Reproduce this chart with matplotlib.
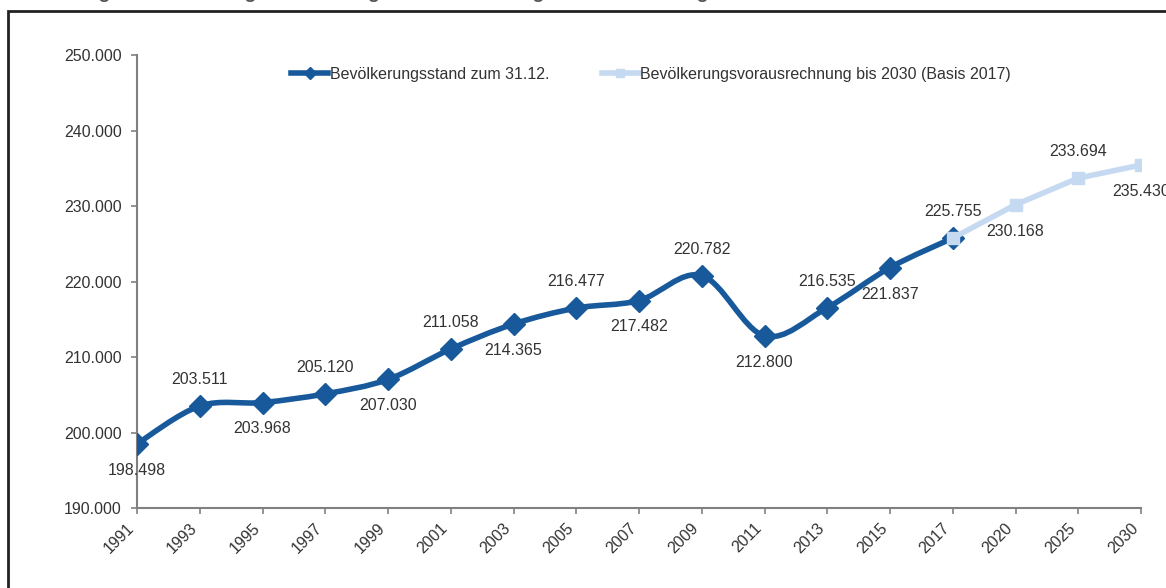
import numpy as np
import matplotlib.pyplot as plt
from matplotlib.path import Path
from matplotlib.patches import PathPatch, Rectangle
from matplotlib.lines import Line2D
from matplotlib.ticker import FuncFormatter

plt.rcParams['font.family'] = ['Liberation Sans', 'DejaVu Sans']

# Daten
jahre = ['1991', '1993', '1995', '1997', '1999', '2001', '2003', '2005', '2007',
         '2009', '2011', '2013', '2015', '2017', '2020', '2025', '2030']
stand = [198498, 203511, 203968, 205120, 207030, 211058, 214365, 216477, 217482,
         220782, 212800, 216535, 221837, 225755]
prognose_jahre = ['2017', '2020', '2025', '2030']
prognose = [225755, 230168, 233694, 235430]
# Beschriftung oberhalb (+1) oder unterhalb (-1)
lage_stand = [-1, 1, -1, 1, -1, 1, -1, 1, -1, 1, -1, 1, -1, 1]
lage_prognose = [0, -1, 1, -1]

blau = '#17599a'
hellblau = '#c5d9f1'
grau = '#333333'

fig = plt.figure(figsize=(11.66, 5.88), dpi=100)
ax = fig.add_axes([137/1166, 1-508/588, (1141-137)/1166, (508-55)/588])

x_stand = np.array([jahre.index(j) for j in jahre[:len(stand)]], dtype=float)
y_stand = np.array(stand, dtype=float)

# geglaettete Linie (wie Excel)
px = np.concatenate([[x_stand[0]], x_stand, [x_stand[-1]]])
py = np.concatenate([[y_stand[0]], y_stand, [y_stand[-1]]])
verts = [(x_stand[0], y_stand[0])]
codes = [Path.MOVETO]
for i in range(1, len(px) - 2):
    c1 = (px[i] + (px[i+1] - px[i-1]) / 6, py[i] + (py[i+1] - py[i-1]) / 6)
    c2 = (px[i+1] - (px[i+2] - px[i]) / 6, py[i+1] - (py[i+2] - py[i]) / 6)
    verts += [c1, c2, (px[i+1], py[i+1])]
    codes += [Path.CURVE4] * 3
ax.add_patch(PathPatch(Path(verts, codes), fill=False, edgecolor=blau,
                       linewidth=4, capstyle='round', joinstyle='round', zorder=3))
ax.plot(x_stand, y_stand, linestyle='none', marker='D', markersize=11,
        color=blau, zorder=4)

x_prog = [jahre.index(j) for j in prognose_jahre]
ax.plot(x_prog, prognose, color=hellblau, linewidth=4, marker='s',
        markersize=8, zorder=5)

# Datenbeschriftungen
for xi, yi, l in zip(x_stand, stand, lage_stand):
    ax.annotate(f'{yi:,}'.replace(',', '.'), (xi, yi), xytext=(0, 19*l),
                textcoords='offset points', ha='center', va='center',
                fontsize=11.5, color=grau, annotation_clip=False, zorder=6)
for xi, yi, l in zip(x_prog, prognose, lage_prognose):
    if l == 0:
        continue
    ax.annotate(f'{yi:,}'.replace(',', '.'), (xi, yi), xytext=(0, 19*l),
                textcoords='offset points', ha='center', va='center',
                fontsize=11.5, color=grau, annotation_clip=False, zorder=6)

ax.set_xlim(0, len(jahre) - 1)
ax.set_ylim(190000, 250000)
ax.set_xticks(range(len(jahre)))
ax.set_xticklabels(jahre, rotation=45, ha='right', va='top')
ax.set_yticks(np.arange(190000, 250001, 10000))
ax.yaxis.set_major_formatter(FuncFormatter(lambda v, p: f'{int(v):,}'.replace(',', '.')))
ax.tick_params(axis='both', colors='#808080', labelcolor=grau, labelsize=11.5,
               length=4, width=1.2, direction='out')
ax.tick_params(axis='y', pad=7)
ax.tick_params(axis='x', pad=5)
for s in ['top', 'right']:
    ax.spines[s].set_visible(False)
for s in ['left', 'bottom']:
    ax.spines[s].set_color('#808080')
    ax.spines[s].set_linewidth(1.5)

handles = [Line2D([], [], color=blau, linewidth=4, marker='D', markersize=6),
           Line2D([], [], color=hellblau, linewidth=4, marker='s', markersize=6)]
fig.legend(handles, ['Bevölkerungsstand zum 31.12.',
                     'Bevölkerungsvorausrechnung bis 2030 (Basis 2017)'],
           loc='center left', bbox_to_anchor=(277/1166, 1-74/588), ncol=2,
           frameon=False, fontsize=11.5, handlelength=2.3, handletextpad=0.1,
           columnspacing=3.3, labelcolor=grau)

# Rahmen und abgeschnittener Titel
fig.patches.append(Rectangle((8/1166, -0.1), 1.2, 1.1 - 11/588,
                             transform=fig.transFigure, fill=False,
                             edgecolor='#222222', linewidth=2))
fig.text(14/1166, 1+1.5/588, 'Abbildung 1: Bevölkerungsentwicklung und Bevölkerungsvorausrechnung in Gießen 1991 bis 2030',
         fontsize=14, fontweight='bold', color='#555555', ha='left', va='baseline')

plt.savefig('out.png', dpi=100)
